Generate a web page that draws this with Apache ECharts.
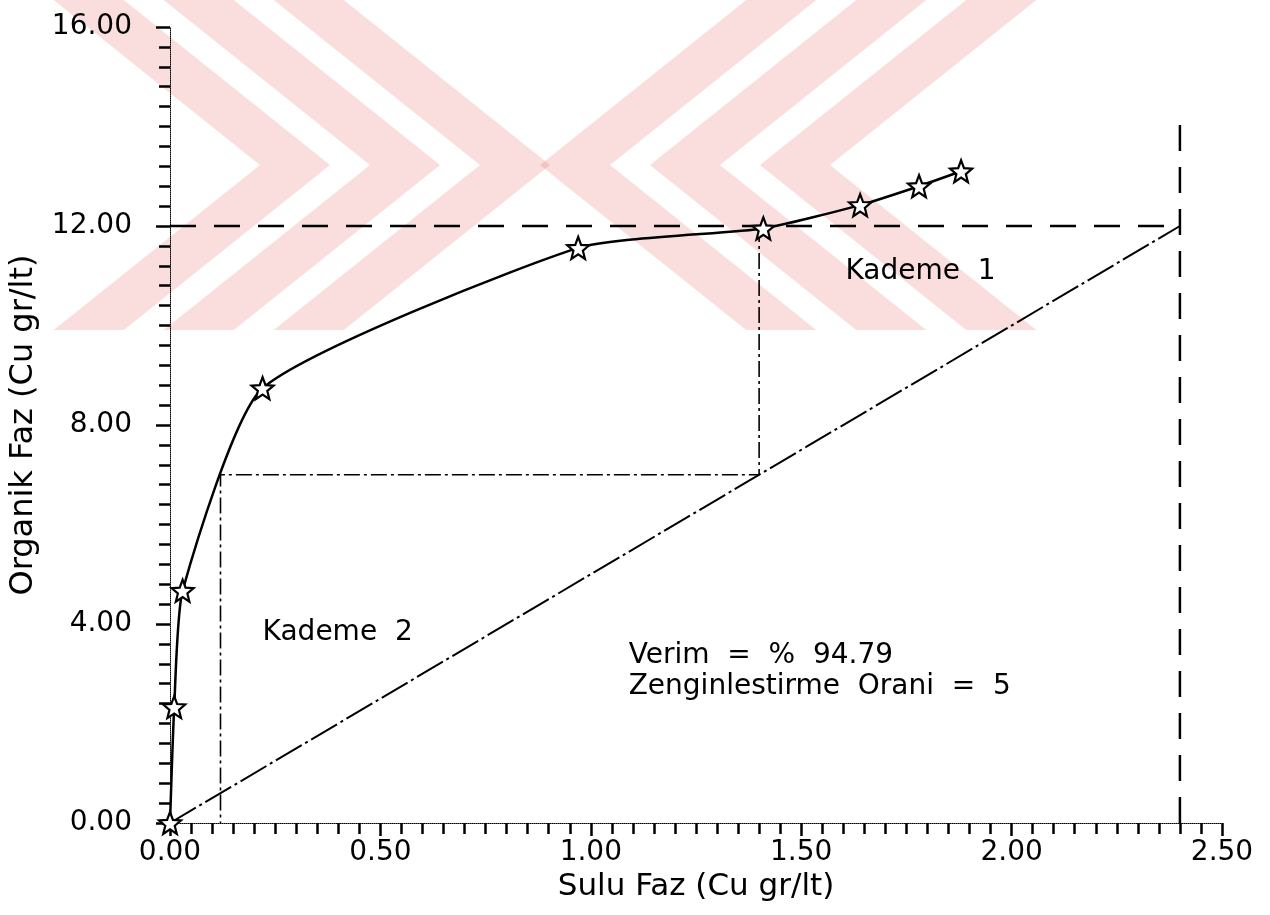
<!DOCTYPE html>
<html>
<head>
<meta charset="utf-8">
<script src="https://cdn.jsdelivr.net/npm/echarts@6/dist/echarts.min.js"></script>
<style>
  html, body { margin: 0; padding: 0; background: #fff; }
  #chart { width: 1270px; height: 915px; }
</style>
</head>
<body>
<div id="chart"></div>
<script>
// Equilibrium curve (copper in aqueous vs organic phase, g/L)
const aqueousCu = [0, 0.01, 0.03, 0.22, 0.97, 1.41, 1.64, 1.78, 1.88];
const organicCu = [0, 2.33, 4.67, 8.74, 11.56, 11.95, 12.42, 12.8, 13.1];

// Operating line (enrichment ratio 5) from origin to feed point
const operatingX = [0, 2.4];
const operatingY = [0, 12];

// Target organic loading line and feed concentration line
const loadingX = [0, 2.4];
const loadingY = [12, 12];
const feedX = [2.4, 2.4];
const feedY = [0, 14.1];

// Stage stepping between operating line and equilibrium curve
const stepX = [1.40, 1.40, 0.12, 0.12];
const stepY = [12, 7, 7, 0];

// Axis ranges
const xRange = [0, 2.5, 0.5];
const yRange = [0, 16, 4];

// Annotation texts and anchor points (data units)
const noteTexts = ['Kademe  1', 'Kademe  2', 'Verim  =  %  94.79\nZenginlestirme  Orani  =  5'];
const noteX = [1.605, 0.22, 1.09];
const noteY = [11.08, 3.82, 3.05];

const zip = (a, b) => a.map((v, i) => [v, b[i]]);

// five-pointed hollow star marker
function starPath() {
  const pts = [];
  for (let i = 0; i < 10; i++) {
    const r = i % 2 === 0 ? 10 : 4.3;
    const ang = -Math.PI / 2 + i * Math.PI / 5;
    pts.push((10 + r * Math.cos(ang)).toFixed(2) + ',' + (10 + r * Math.sin(ang)).toFixed(2));
  }
  return 'path://M' + pts.join('L') + 'Z';
}

const FONT = '"DejaVu Sans", sans-serif';
const chart = echarts.init(document.getElementById('chart'), null, { renderer: 'canvas' });

// light red backdrop bands (two nested chevrons forming an X)
function chevron(apexX, dir, thick) {
  const apexY = 165, dx = 1.25 * apexY;
  const a = apexX, b = apexX - dir * thick;
  return [[a - dir * dx, 0], [a, apexY], [a - dir * dx, 330],
          [b - dir * dx, 330], [b, apexY], [b - dir * dx, 0]];
}
const bandStyle = { fill: 'rgba(225,50,50,0.16)' };
const backdrop = [];
[330, 440, 550].forEach(ax => backdrop.push({ type: 'polygon', z: -10, silent: true, shape: { points: chevron(ax, 1, 70) }, style: bandStyle }));
[760, 650, 540].forEach(ax => backdrop.push({ type: 'polygon', z: -10, silent: true, shape: { points: chevron(ax, -1, 70) }, style: bandStyle }));

const tickStyle = { color: '#000', width: 2.5 };

chart.setOption({
  backgroundColor: '#fff',
  animation: false,
  graphic: backdrop,
  grid: { left: 170, right: 48, top: 27, bottom: 92, containLabel: false },
  xAxis: {
    type: 'value', min: xRange[0], max: xRange[1], interval: xRange[2],
    name: 'Sulu Faz (Cu gr/lt)', nameLocation: 'middle', nameGap: 46,
    nameTextStyle: { fontFamily: FONT, fontSize: 31, color: '#000' },
    axisLine: { show: true, lineStyle: { color: '#000', width: 1, type: 'dotted' } },
    axisTick: { show: true, length: 13, lineStyle: tickStyle },
    minorTick: { show: true, splitNumber: 10, length: 11, lineStyle: tickStyle },
    splitLine: { show: false },
    axisLabel: { formatter: v => v.toFixed(2), fontFamily: FONT, fontSize: 28, color: '#000', margin: 16 }
  },
  yAxis: {
    type: 'value', min: yRange[0], max: yRange[1], interval: yRange[2],
    name: 'Organik Faz (Cu gr/lt)', nameLocation: 'middle', nameGap: 130,
    nameTextStyle: { fontFamily: FONT, fontSize: 32, color: '#000' },
    axisLine: { show: true, lineStyle: { color: '#000', width: 1, type: 'dotted' } },
    axisTick: { show: true, length: 14, lineStyle: tickStyle },
    minorTick: { show: true, splitNumber: 10, length: 11, lineStyle: tickStyle },
    splitLine: { show: false },
    axisLabel: { formatter: v => v.toFixed(2), fontFamily: FONT, fontSize: 28, color: '#000', margin: 38 }
  },
  series: [
    {
      name: 'loading', type: 'line', data: zip(loadingX, loadingY), symbol: 'none', silent: true,
      lineStyle: { color: '#000', width: 2.5, type: [26, 18] }, z: 2
    },
    {
      name: 'feed', type: 'line', data: zip(feedX, feedY), symbol: 'none', silent: true,
      lineStyle: { color: '#000', width: 2.5, type: [26, 16] }, z: 2
    },
    {
      name: 'operating', type: 'line', data: zip(operatingX, operatingY), symbol: 'none', silent: true,
      lineStyle: { color: '#000', width: 2, type: [30, 4, 3, 4] }, z: 2
    },
    {
      name: 'stages', type: 'line', data: zip(stepX, stepY), symbol: 'none', silent: true,
      lineStyle: { color: '#000', width: 1.6, type: [16, 4, 3, 4] }, z: 2
    },
    {
      name: 'equilibrium', type: 'line', data: zip(aqueousCu, organicCu),
      smooth: 0.18,
      symbol: starPath(), symbolSize: 22, showAllSymbol: true,
      lineStyle: { color: '#000', width: 2.5 },
      itemStyle: { color: '#fff', borderColor: '#000', borderWidth: 2.2 }, z: 3
    },
    {
      name: 'notes', type: 'scatter', symbolSize: 0, silent: true,
      itemStyle: { opacity: 1 },
      data: noteX.map((x, i) => ({ value: [x, noteY[i]], text: noteTexts[i] })),
      label: {
        show: true, position: 'right', distance: 0,
        formatter: p => p.data.text,
        fontFamily: FONT, fontSize: 28, color: '#000', lineHeight: 31,
        textBorderWidth: 0
      }
    }
  ]
});
</script>
</body>
</html>
